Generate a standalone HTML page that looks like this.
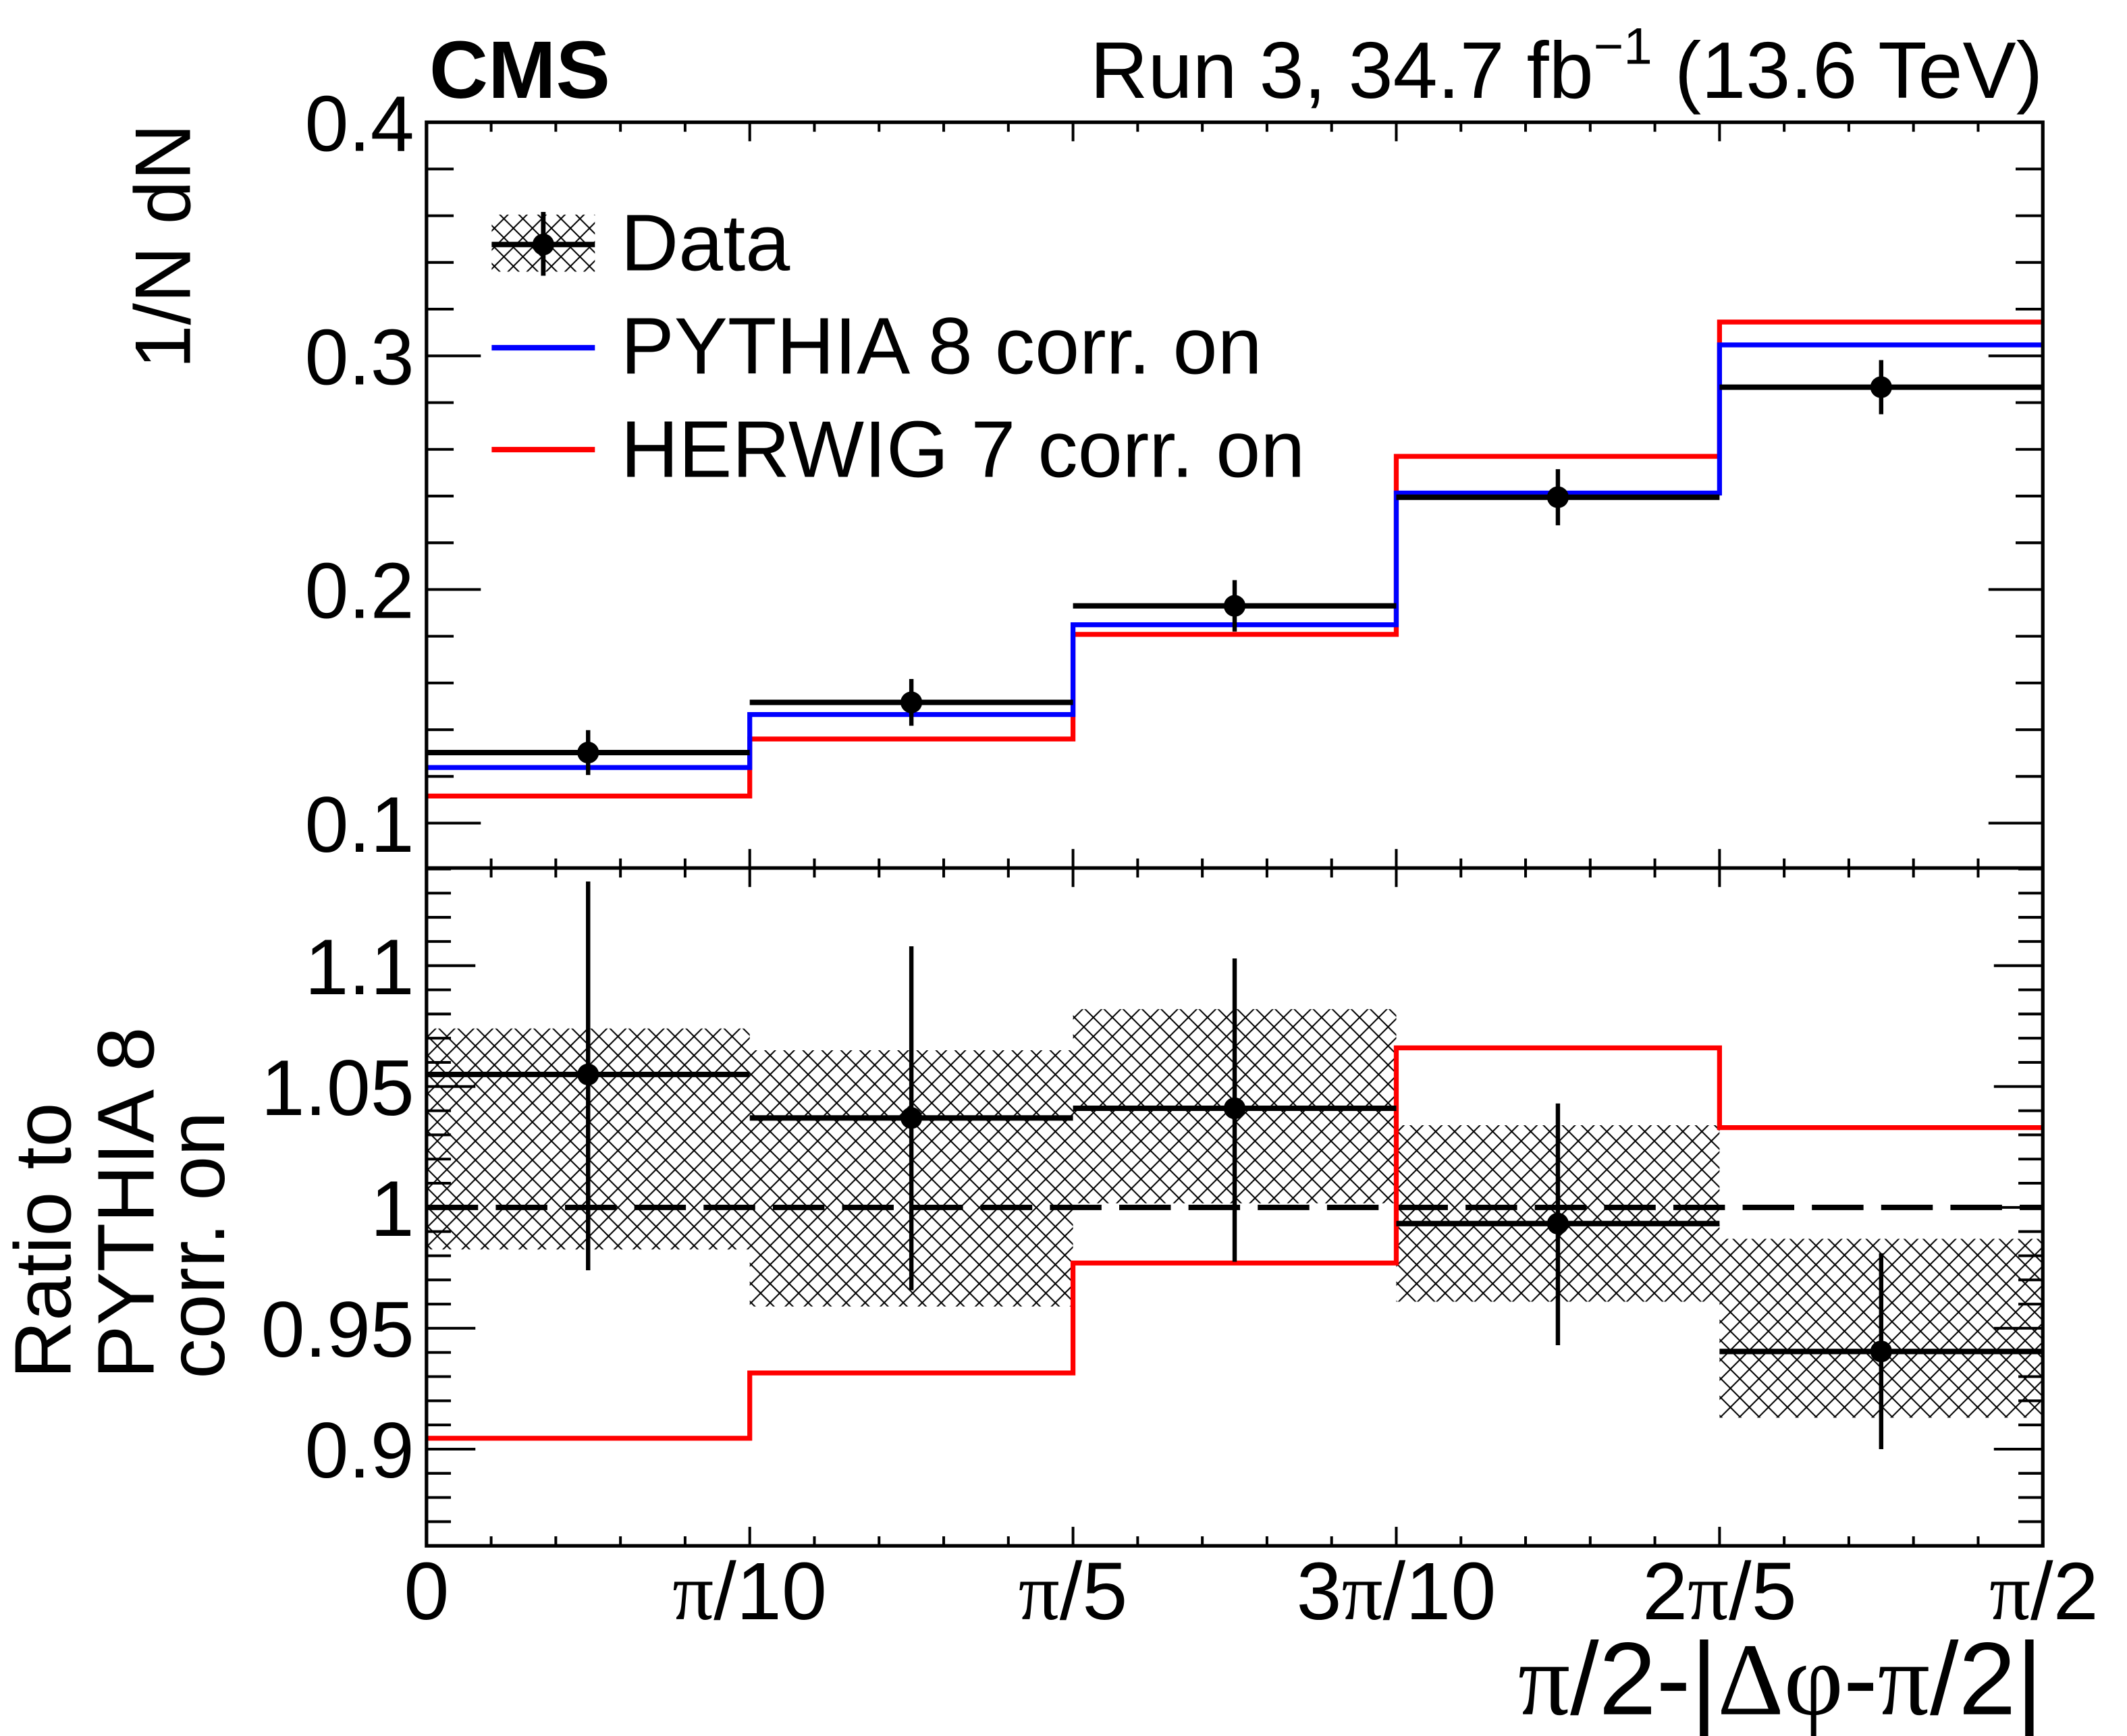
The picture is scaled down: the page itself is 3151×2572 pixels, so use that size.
<!DOCTYPE html>
<html><head><meta charset="utf-8"><style>
html,body{margin:0;padding:0;background:#fff}
svg{display:block}
text{font-family:"Liberation Sans",sans-serif;fill:#000}
.s{font-family:"Liberation Serif",serif}
</style></head><body>
<svg id="c" width="3151" height="2572" viewBox="0 0 1566 1278" preserveAspectRatio="none" xmlns="http://www.w3.org/2000/svg">
<defs>
<pattern id="hatch" patternUnits="userSpaceOnUse" width="14" height="14">
<path d="M0,0 L14,14 M14,0 L0,14 M-4,10 L4,18 M10,-4 L18,4 M-4,4 L4,-4 M10,18 L18,10" stroke="#000" stroke-width="1" fill="none"/>
</pattern>
</defs>
<text x="316" y="72" font-size="60" font-weight="bold">CMS</text>
<text x="1504" y="72" font-size="59" text-anchor="end">Run 3, 34.7 fb<tspan dy="-25" font-size="38">−1</tspan><tspan dy="25"> (13.6 TeV)</tspan></text>
<text transform="translate(140,91) rotate(-90)" font-size="58" text-anchor="end">1/N dN</text>
<g font-size="59">
<text transform="translate(52,1015) rotate(-90)">Ratio to</text>
<text transform="translate(113,1015) rotate(-90)">PYTHIA 8</text>
<text transform="translate(165,1015) rotate(-90)">corr. on</text>
</g>
<g id="upper"></g>
<g id="lower"></g>
<g id="axes"></g>
<text x="1504" y="1262" font-size="76" text-anchor="end"><tspan class="s">π</tspan>/2-|<tspan class="s">Δφ</tspan>-<tspan class="s">π</tspan>/2|</text>
<g>
<rect x="362" y="158" width="76" height="42" fill="url(#hatch)"/>
<line x1="362" y1="180" x2="438" y2="180" stroke="#000" stroke-width="4"/>
<line x1="400" y1="156" x2="400" y2="203" stroke="#000" stroke-width="3.4"/>
<circle cx="400" cy="180" r="8" fill="#000"/>
<text x="457" y="199" font-size="59">Data</text>
<line x1="362" y1="256" x2="438" y2="256" stroke="#0000ff" stroke-width="4"/>
<text x="457" y="275" font-size="59">PYTHIA 8 corr. on</text>
<line x1="362" y1="331" x2="438" y2="331" stroke="#ff0000" stroke-width="4"/>
<text x="457" y="351" font-size="59">HERWIG 7 corr. on</text>
</g>
</svg>
<script>
const binEdges = [0, 0.1, 0.2, 0.3, 0.4, 0.5]; // in units of pi
const xTickLabels = ["0", "π/10", "π/5", "3π/10", "2π/5", "π/2"];
const dataVals = [0.1302, 0.1517, 0.193, 0.2395, 0.2866];
const dataErr = [0.0096, 0.010, 0.011, 0.012, 0.0116];
const pythiaVals = [0.1238, 0.1465, 0.1849, 0.2413, 0.3047];
const herwigVals = [0.1116, 0.136, 0.1808, 0.257, 0.3145];
const ratioVals = [1.055, 1.037, 1.041, 0.9933, 0.9404];
const ratioErrHi = [1.1348, 1.108, 1.103, 1.043, 0.981];
const ratioErrLo = [0.974, 0.9657, 0.9775, 0.943, 0.900];
const bandHi = [1.074, 1.065, 1.082, 1.034, 0.987];
const bandLo = [0.9826, 0.959, 1.0017, 0.961, 0.913];
const herwigRatio = [0.9045, 0.9315, 0.977, 1.066, 1.033];
const upperTicks = ["0.1", "0.2", "0.3", "0.4"];
const lowerTicks = ["0.9", "0.95", "1", "1.05", "1.1"];

const NS = "http://www.w3.org/2000/svg";
const L = 314, R = 1504, T = 90, M = 639, B = 1138;
const uMin = 0.0808, uMax = 0.4, rMin = 0.860, rMax = 1.1404;
const xS = v => L + (v - binEdges[0]) / (binEdges[binEdges.length-1] - binEdges[0]) * (R - L);
const yU = v => M - (v - uMin) / (uMax - uMin) * (M - T);
const yR = v => B - (v - rMin) / (rMax - rMin) * (B - M);
function mk(tag, attrs, parent) {
  const e = document.createElementNS(NS, tag);
  for (const k in attrs) e.setAttribute(k, attrs[k]);
  parent.appendChild(e); return e;
}
const up = document.getElementById('upper'), lo = document.getElementById('lower'), ax = document.getElementById('axes');

function stepPath(vals, yf) {
  let d = "";
  for (let i = 0; i < vals.length; i++) {
    const x0 = xS(binEdges[i]), x1 = xS(binEdges[i+1]), y = yf(vals[i]);
    d += (i === 0 ? "M" : "L") + x0 + "," + y + " L" + x1 + "," + y + " ";
  }
  return d;
}
let p = mk('path', {d: stepPath(herwigVals, yU), stroke: '#ff0000', 'stroke-width': 3.6, fill: 'none'}, up);


p = mk('path', {d: stepPath(pythiaVals, yU), stroke: '#0000ff', 'stroke-width': 3.6, fill: 'none'}, up);


for (let i = 0; i < dataVals.length; i++) {
  const x0 = xS(binEdges[i]), x1 = xS(binEdges[i+1]), xc = (x0 + x1) / 2, y = yU(dataVals[i]);
  const g = mk('g', {}, up);
  
  
  mk('line', {x1: x0, x2: x1, y1: y, y2: y, stroke: '#000', 'stroke-width': 4}, g);
  mk('line', {x1: xc, x2: xc, y1: yU(dataVals[i] + dataErr[i]), y2: yU(dataVals[i] - dataErr[i]), stroke: '#000', 'stroke-width': 3.2}, g);
  mk('circle', {cx: xc, cy: y, r: 8, fill: '#000'}, g);
}
for (let i = 0; i < bandHi.length; i++) {
  const x0 = xS(binEdges[i]), x1 = xS(binEdges[i+1]);
  const r = mk('rect', {x: x0, y: yR(bandHi[i]), width: x1 - x0, height: yR(bandLo[i]) - yR(bandHi[i]), fill: 'url(#hatch)'}, lo);
  
  
}
p = mk('line', {x1: L, x2: R, y1: yR(1), y2: yR(1), stroke: '#000', 'stroke-width': 4, 'stroke-dasharray': '38 13'}, lo);


p = mk('path', {d: stepPath(herwigRatio, yR), stroke: '#ff0000', 'stroke-width': 3.6, fill: 'none'}, lo);


for (let i = 0; i < ratioVals.length; i++) {
  const x0 = xS(binEdges[i]), x1 = xS(binEdges[i+1]), xc = (x0 + x1) / 2, y = yR(ratioVals[i]);
  const g = mk('g', {}, lo);
  
  
  mk('line', {x1: x0, x2: x1, y1: y, y2: y, stroke: '#000', 'stroke-width': 4}, g);
  mk('line', {x1: xc, x2: xc, y1: yR(ratioErrHi[i]), y2: yR(ratioErrLo[i]), stroke: '#000', 'stroke-width': 3.2}, g);
  mk('circle', {cx: xc, cy: y, r: 8, fill: '#000'}, g);
}
mk('rect', {x: L, y: T, width: R - L, height: B - T, fill: 'none', stroke: '#000', 'stroke-width': 2.6}, ax);
mk('line', {x1: L, x2: R, y1: M, y2: M, stroke: '#000', 'stroke-width': 2.6}, ax);
const tk = {stroke: '#000', 'stroke-width': 2};
const nEdges = binEdges.length;
for (let i = 0; i < nEdges - 1; i++) {
  for (let j = 0; j < 5; j++) {
    const x = xS(binEdges[i] + (binEdges[i+1] - binEdges[i]) * j / 5);
    const len = j === 0 ? 14 : 7;
    [[T, 1], [M, -1], [M, 1], [B, -1]].forEach(([y0, s]) => mk('line', Object.assign({x1: x, x2: x, y1: y0, y2: y0 + s * len}, tk), ax));
  }
}
for (let i = 0; i < nEdges; i++) {
  const x = xS(binEdges[i]);
  const last = i === nEdges - 1;
  const t = mk('text', {x: last ? 1545 : x, y: 1192, 'font-size': 60, 'text-anchor': last ? 'end' : 'middle'}, ax);
  
  
  xTickLabels[i].split(/(π)/).forEach(part => {
    if (!part) return;
    const s = mk('tspan', {}, t); if (part === 'π') s.setAttribute('class', 's'); s.textContent = part;
  });
}
for (let k = 8; k <= 40; k += 2) {
  const vv = k / 100;
  if (vv < uMin) continue;
  const major = k % 10 === 0;
  const len = major ? 40 : 20, y = yU(vv);
  mk('line', Object.assign({x1: L, x2: L + len, y1: y, y2: y}, tk), ax);
  mk('line', Object.assign({x1: R, x2: R - len, y1: y, y2: y}, tk), ax);
}
upperTicks.forEach(s => {
  const t = mk('text', {x: 305, y: yU(parseFloat(s)) + 21, 'font-size': 58, 'text-anchor': 'end'}, ax);
  
  
  t.textContent = s;
});
for (let k = 86; k <= 114; k++) {
  const vv = k / 100;
  const major = k % 5 === 0;
  const len = major ? 36 : 18, y = yR(vv);
  mk('line', Object.assign({x1: L, x2: L + len, y1: y, y2: y}, tk), ax);
  mk('line', Object.assign({x1: R, x2: R - len, y1: y, y2: y}, tk), ax);
}
lowerTicks.forEach(s => {
  const t = mk('text', {x: 305, y: yR(parseFloat(s)) + 21, 'font-size': 58, 'text-anchor': 'end'}, ax);
  
  
  t.textContent = s;
});
</script>
</body></html>
